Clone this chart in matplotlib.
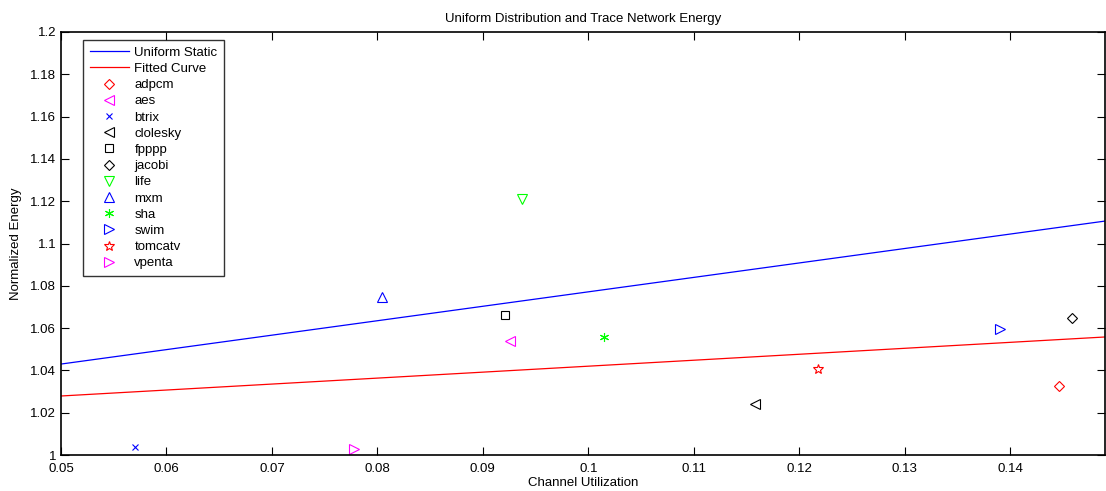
import numpy as np
import matplotlib
matplotlib.use('Agg')
import matplotlib.pyplot as plt

plt.rcParams['font.family'] = ['Liberation Sans', 'DejaVu Sans']

# benchmark points
nomes = ['adpcm', 'aes', 'btrix', 'clolesky', 'fpppp', 'jacobi', 'life',
         'mxm', 'sha', 'swim', 'tomcatv', 'vpenta']
util = [0.1446, 0.0926, 0.0570, 0.1158, 0.0921, 0.1459, 0.0937,
        0.0804, 0.1015, 0.1390, 0.1218, 0.0778]
energia = [1.0326, 1.0539, 1.0036, 1.0241, 1.0662, 1.0649, 1.1210,
           1.0747, 1.0559, 1.0594, 1.0408, 1.0028]

# lines
linha_x = [0.05, 0.149]
uniform_y = [1.0430, 1.1106]
fitted_y = [1.0279, 1.0558]

marcadores = ['D', '<', 'x', '<', 's', 'D', 'v', '^', (6, 2, 0), '>', '*', '>']
tamanhos = [5.5, 6.5, 5, 6.5, 5.5, 5.5, 6.5, 6.5, 6.5, 6.5, 7.5, 6.5]
cores = ['#ff0000', '#ff00ff', '#0000ff', 'black', 'black', 'black', '#00ff00',
         '#0000ff', '#00ff00', '#0000ff', '#ff0000', '#ff00ff']

fig = plt.figure(figsize=(11.06, 4.91), dpi=100)
ax = fig.add_axes([61/1106, 1-455/491, 1044/1106, 423/491])

ax.plot(linha_x, uniform_y, color='#0000ff', lw=0.9, label='Uniform Static')
ax.plot(linha_x, fitted_y, color='#ff0000', lw=0.9, label='Fitted Curve')

for n, x, y, m, s, c in zip(nomes, util, energia, marcadores, tamanhos, cores):
    ax.plot([x], [y], linestyle='none', marker=m, ms=s, mfc='none', mec=c,
            mew=0.8, label=n)

ax.set_xlim(0.05, 0.149)
ax.set_ylim(1.0, 1.2)
ax.set_xticks(np.arange(0.05, 0.1401, 0.01))
ax.set_xticklabels(['0.05', '0.06', '0.07', '0.08', '0.09', '0.1', '0.11', '0.12', '0.13', '0.14'])
ax.set_yticks(np.arange(1.0, 1.2001, 0.02))
ax.set_yticklabels(['1', '1.02', '1.04', '1.06', '1.08', '1.1', '1.12', '1.14', '1.16', '1.18', '1.2'])
ax.tick_params(direction='in', top=True, right=True, labelsize=9.5, length=6, width=0.8)
ax.tick_params(axis='x', pad=6)
for s in ax.spines.values():
    s.set_linewidth(1.2)

ax.set_xlabel('Channel Utilization', fontsize=9.5, labelpad=1)
ax.set_ylabel('Normalized Energy', fontsize=9.5, labelpad=6)
ax.set_title('Uniform Distribution and Trace Network Energy', fontsize=9.5, pad=7)

leg = ax.legend(loc='upper left', bbox_to_anchor=(0.021, 0.981), fontsize=9.5,
                frameon=True, fancybox=False, edgecolor='black', borderpad=0.5,
                labelspacing=0.3, handlelength=3.0, handletextpad=0.4,
                borderaxespad=0)
leg.get_frame().set_linewidth(1.0)

fig.savefig('out.png', dpi=100)
